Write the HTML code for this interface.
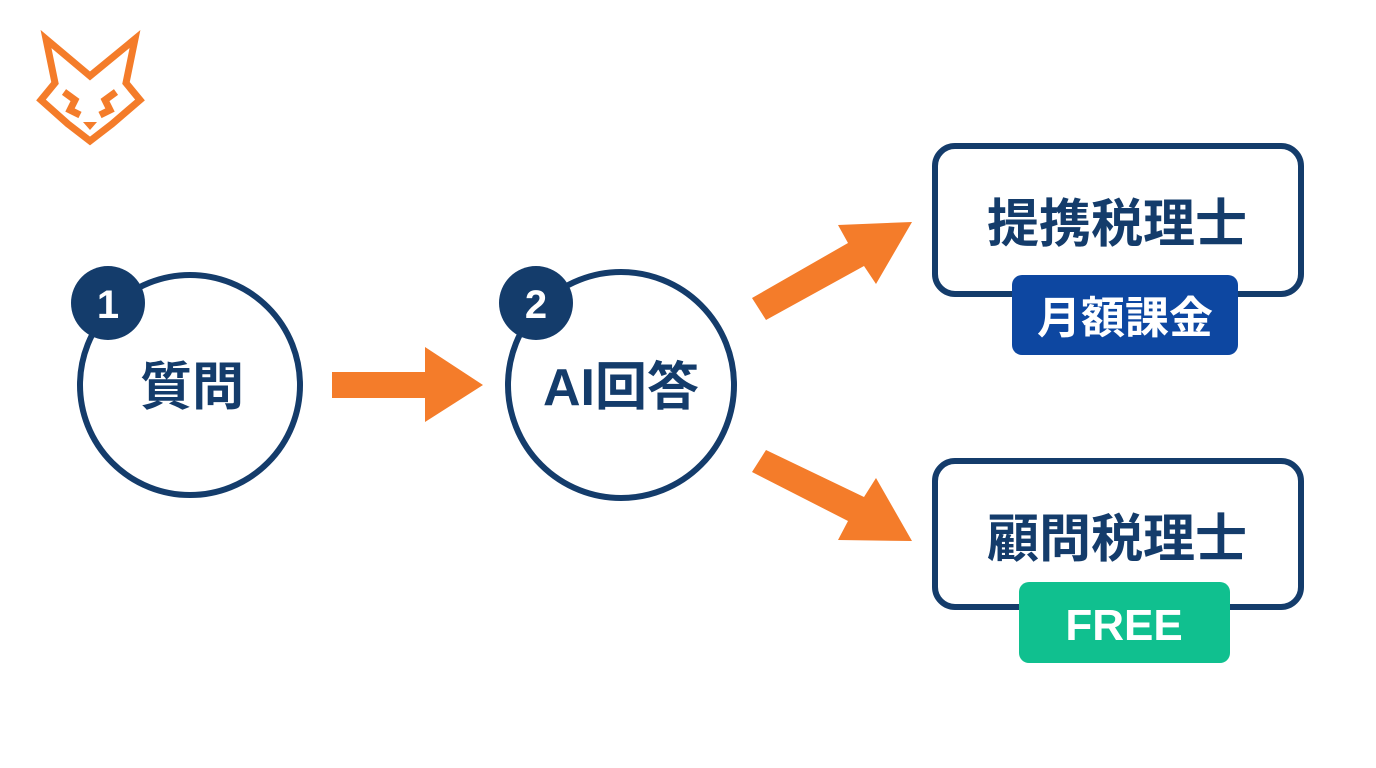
<!DOCTYPE html>
<html><head><meta charset="utf-8"><style>
body{margin:0;width:1376px;height:768px;background:#fff;overflow:hidden;font-family:"Liberation Sans","Noto Sans CJK JP",sans-serif}
</style></head><body>
<svg width="1376" height="768" viewBox="0 0 1376 768" xmlns="http://www.w3.org/2000/svg" style="position:absolute;left:0;top:0">
<g fill="none" stroke="#f47c2a" stroke-width="7" stroke-linejoin="miter">
<polygon points="46,39 90,76 135,39 126,83 140,100 112,124 90,141 68,124 41,100 55,83"/>
<polyline points="64,92 75,100 70,110 80,115"/>
<polyline points="116,92 105,100 110,110 100,115"/>
</g>
<polygon points="83,122 97,122 90,130" fill="#f47c2a"/>
<g fill="none" stroke="#143c6b" stroke-width="6">
<circle cx="190" cy="385" r="110"/>
<circle cx="621" cy="385" r="113"/>
<rect x="935" y="146" width="366" height="148" rx="20"/>
<rect x="935" y="461" width="366" height="146" rx="20"/>
</g>
<circle cx="108" cy="303" r="37" fill="#143c6b"/>
<circle cx="536" cy="303" r="37" fill="#143c6b"/>
<text x="108" y="318" font-size="40" font-weight="bold" fill="#fff" text-anchor="middle">1</text>
<text x="536" y="318" font-size="40" font-weight="bold" fill="#fff" text-anchor="middle">2</text>
<text x="192" y="405" font-size="52" font-weight="bold" fill="#143c6b" text-anchor="middle">質問</text>
<text x="621" y="405" font-size="52" font-weight="bold" fill="#143c6b" text-anchor="middle">AI回答</text>
<text x="1117" y="242" font-size="52" font-weight="bold" fill="#143c6b" text-anchor="middle">提携税理士</text>
<text x="1117" y="557" font-size="52" font-weight="bold" fill="#143c6b" text-anchor="middle">顧問税理士</text>
<g fill="#f47c2a">
<polygon points="332,372 425,372 425,347 483,385 425,422 425,398 332,398"/>
<polygon points="752,298 848,243 838,225 912,222 876,284 864,266 766,320"/>
<polygon points="752,472 848,521 838,540 912,541 876,478 864,497 766,450"/>
</g>
<rect x="1012" y="275" width="226" height="80" rx="10" fill="#0d47a1"/>
<text x="1125" y="333" font-size="44" font-weight="bold" fill="#fff" text-anchor="middle">月額課金</text>
<rect x="1019" y="582" width="211" height="81" rx="10" fill="#10c08f"/>
<text x="1124" y="640" font-size="44" font-weight="bold" fill="#fff" text-anchor="middle">FREE</text>
</svg>
</body></html>
